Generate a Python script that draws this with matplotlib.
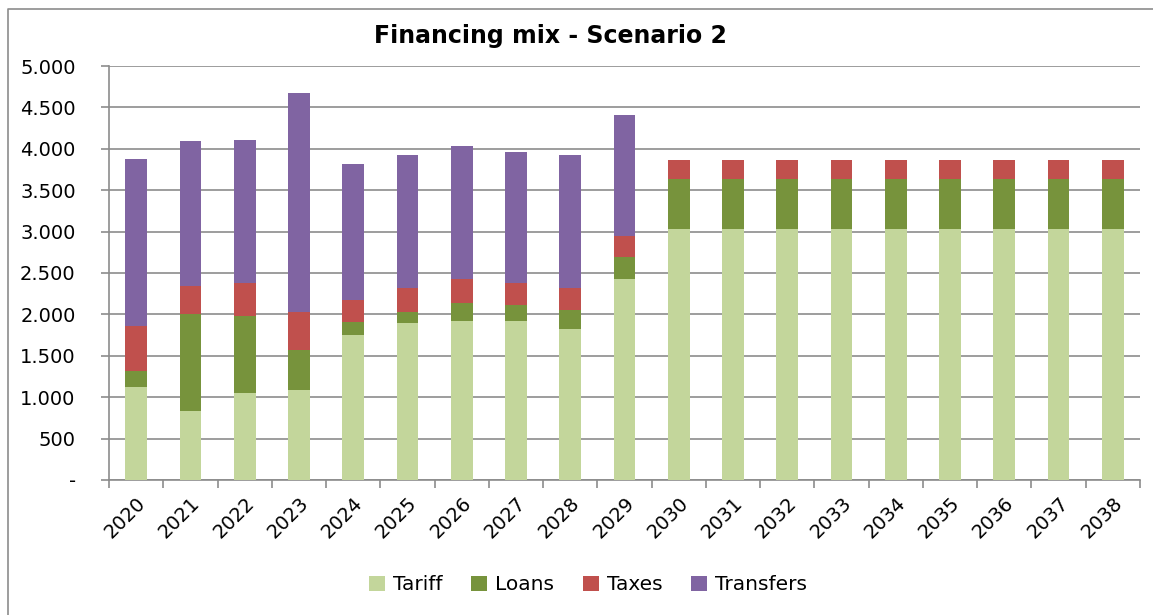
import matplotlib
matplotlib.use("Agg")
import matplotlib.pyplot as plt
from matplotlib.lines import Line2D
from matplotlib.ticker import FuncFormatter, MultipleLocator
import numpy as np

years = [str(y) for y in range(2020, 2039)]
tariff = [1128, 834, 1048, 1088, 1753, 1902, 1926, 1926, 1822, 2427,
          3031, 3031, 3031, 3031, 3031, 3031, 3031, 3031, 3031]
loans = [186, 1169, 935, 480, 154, 129, 206, 182, 230, 266,
         600, 600, 600, 600, 600, 600, 600, 600, 600]
taxes = [540, 335, 395, 459, 261, 287, 290, 274, 266, 254,
         235, 235, 235, 235, 235, 235, 235, 235, 235]
transfers = [2028, 1753, 1733, 2649, 1653, 1608, 1608, 1584, 1608, 1463,
             0, 0, 0, 0, 0, 0, 0, 0, 0]
series_names = ["Tariff", "Loans", "Taxes", "Transfers"]
colors = ["#C3D69B", "#77933C", "#C0504D", "#8064A2"]

plt.rcParams['font.family'] = ['DejaVu Sans']

fig = plt.figure(figsize=(11.53, 6.15), dpi=100)
ax = fig.add_axes([109/1153, 1-480/615, (1140-109)/1153, (480-66)/615])

x = np.arange(len(years))
bottom = np.zeros(len(years))
handles = []
for name, vals, c in zip(series_names, [tariff, loans, taxes, transfers], colors):
    v = np.array(vals, dtype=float)
    h = ax.bar(x, v, width=0.4, bottom=bottom, color=c, label=name, zorder=3)
    handles.append(h)
    bottom += v

ax.set_xlim(-0.5, len(years) - 0.5)
ax.set_ylim(0, 5000)
ax.yaxis.set_major_locator(MultipleLocator(500))
ax.yaxis.set_major_formatter(FuncFormatter(lambda v, p: "-" if v == 0 else f"{int(v):,}".replace(",", ".")))
ax.grid(axis='y', color='#8c8c8c', linewidth=1.2, zorder=0)
ax.set_axisbelow(True)

for s in ['top', 'right']:
    ax.spines[s].set_visible(False)
for s in ['left', 'bottom']:
    ax.spines[s].set_color('#8c8c8c')
    ax.spines[s].set_linewidth(1.2)

ax.set_xticks(x)
ax.set_xticklabels(years, rotation=45, ha='right', rotation_mode='anchor', fontsize=14)
ax.set_xticks(np.arange(-0.5, len(years)), minor=True)
ax.tick_params(axis='x', which='major', length=0, pad=10)
ax.tick_params(axis='x', which='minor', length=6, color='#8c8c8c', width=1.2, direction='out')
ax.tick_params(axis='y', length=6, color='#8c8c8c', width=1.2, labelsize=14, pad=18)

fig.text(550/1153, 1-36/615, "Financing mix - Scenario 2", ha='center', va='center',
         fontsize=17, fontweight='bold', family=['Liberation Sans Narrow', 'DejaVu Sans'])

fig.legend(handles=handles, labels=series_names, loc='center', bbox_to_anchor=(588/1153, 1-585/615),
           ncol=4, frameon=False, fontsize=14.5, handlelength=0.8, handleheight=0.8,
           columnspacing=1.4, handletextpad=0.4)

fig.lines.append(Line2D([8/1153, 8/1153, 1.0], [0.0, 1-9/615, 1-9/615], transform=fig.transFigure,
                        color='#8c8c8c', linewidth=1.2))

fig.savefig("out.png", dpi=100)
